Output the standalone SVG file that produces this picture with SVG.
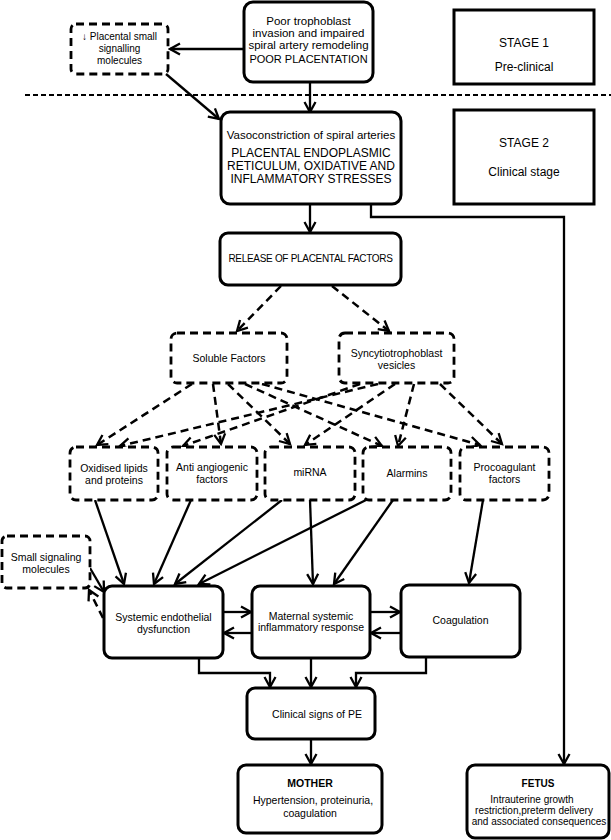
<svg xmlns="http://www.w3.org/2000/svg" width="611" height="840" viewBox="0 0 611 840">
<defs>
<marker id="ah" markerUnits="userSpaceOnUse" markerWidth="14" markerHeight="14" viewBox="0 0 14 14" refX="11.5" refY="7" orient="auto">
<path d="M1.5,1.5 L11.5,7 L1.5,12.5" fill="none" stroke="#000" stroke-width="2.3" stroke-dasharray="none"/>
</marker>
<style>
text{font-family:"Liberation Sans",Arial,sans-serif;font-size:10.5px;fill:#000;text-anchor:middle}
.box{fill:#fff;stroke:#000;stroke-width:3}
.dbox{fill:#fff;stroke:#000;stroke-width:2.8;stroke-dasharray:8 5}
.c{fill:none;stroke:#000;stroke-width:2.3}
.d{fill:none;stroke:#000;stroke-width:2.5;stroke-dasharray:8 5}
.a{marker-end:url(#ah)}
.big{font-size:11.5px}
.st{font-size:12px}
.b{font-weight:bold}
</style>
</defs>
<g id="connectors">
<line x1="25" y1="95" x2="611" y2="95" stroke="#000" stroke-width="2" stroke-dasharray="5 3"/>
<line class="c a" x1="244" y1="49" x2="170" y2="49"/>
<line class="c a" x1="310" y1="82" x2="310" y2="112"/>
<line class="c a" x1="166" y1="74" x2="219" y2="119"/>
<line class="c a" x1="310" y1="204" x2="310" y2="232"/>
<polyline class="c a" points="371,204 371,217 564,217 564,764"/>
<line class="d a" x1="281" y1="286" x2="237" y2="331"/>
<line class="d a" x1="332" y1="286" x2="389" y2="331"/>
<line class="d a" x1="192" y1="384" x2="97" y2="445"/>
<line class="d a" x1="213" y1="384" x2="221" y2="444"/>
<line class="d a" x1="228" y1="384" x2="290" y2="444"/>
<line class="d a" x1="245" y1="384" x2="382" y2="446"/>
<line class="d a" x1="262" y1="384" x2="480" y2="445"/>
<line class="d a" x1="378" y1="384" x2="120" y2="446"/>
<line class="d a" x1="360" y1="384" x2="183" y2="446"/>
<line class="d a" x1="395" y1="384" x2="305" y2="445"/>
<line class="d a" x1="414" y1="384" x2="398" y2="446"/>
<line class="d a" x1="440" y1="384" x2="502" y2="444"/>
<line class="c a" x1="95" y1="500" x2="124" y2="584"/>
<line class="c a" x1="191" y1="500" x2="154" y2="584"/>
<line class="c a" x1="282" y1="500" x2="175" y2="584"/>
<line class="c a" x1="366" y1="500" x2="199" y2="584"/>
<line class="c a" x1="310" y1="500" x2="313" y2="584"/>
<line class="c a" x1="393" y1="500" x2="334" y2="584"/>
<line class="c a" x1="483" y1="500" x2="469" y2="583"/>
<line class="c a" x1="90" y1="568" x2="104" y2="592"/>
<line class="d a" x1="103" y1="618" x2="89" y2="590"/>
<line class="c a" x1="223" y1="612" x2="251" y2="612"/>
<line class="c a" x1="252" y1="633" x2="224" y2="633"/>
<line class="c a" x1="370" y1="612" x2="400" y2="612"/>
<line class="c a" x1="401" y1="633" x2="371" y2="633"/>
<polyline class="c a" points="199,658 199,673 270,673 270,687"/>
<line class="c a" x1="311" y1="658" x2="311" y2="687"/>
<polyline class="c a" points="426,657 426,673 356,673 356,687"/>
<line class="c a" x1="311" y1="739" x2="311" y2="764"/>
</g>
<g id="poor-placentation">
<rect class="box" x="244" y="2" width="129" height="80" rx="9"/>
<text x="308.5" y="25" class="big">Poor trophoblast</text>
<text x="308.5" y="37" class="big">invasion and impaired</text>
<text x="308.5" y="49" class="big">spiral artery remodeling</text>
<text x="308.5" y="63" style="font-size:11px">POOR PLACENTATION</text>
</g>
<g id="placental-small-signalling">
<rect class="dbox" x="71" y="24" width="97" height="50" rx="5"/>
<text x="119.5" y="40" style="font-size:10px">↓ Placental small</text>
<text x="119.5" y="52" style="font-size:10px">signalling</text>
<text x="119.5" y="64" style="font-size:10px">molecules</text>
</g>
<g id="stage1">
<rect class="box" x="454" y="10" width="140" height="74"/>
<text x="524" y="47" class="st">STAGE 1</text>
<text x="524" y="71" class="st">Pre-clinical</text>
</g>
<g id="vasoconstriction">
<rect class="box" x="221" y="112" width="180" height="92" rx="9"/>
<text x="311" y="139" class="big">Vasoconstriction of spiral arteries</text>
<text x="311" y="157" class="st">PLACENTAL ENDOPLASMIC</text>
<text x="311" y="170" class="st">RETICULUM, OXIDATIVE AND</text>
<text x="311" y="183" class="st">INFLAMMATORY  STRESSES</text>
</g>
<g id="stage2">
<rect class="box" x="454" y="110" width="140" height="94"/>
<text x="524" y="147" class="st">STAGE 2</text>
<text x="524" y="176" class="st">Clinical stage</text>
</g>
<g id="release">
<rect class="box" x="220" y="233" width="181" height="52" rx="8"/>
<text x="310.5" y="262" style="font-size:10px;letter-spacing:-0.3px">RELEASE OF PLACENTAL FACTORS</text>
</g>
<g id="soluble-factors">
<rect class="dbox" x="171" y="333" width="116" height="50" rx="6"/>
<text x="229" y="362">Soluble Factors</text>
</g>
<g id="syncytiotrophoblast">
<rect class="dbox" x="339" y="333" width="115" height="50" rx="6"/>
<text x="396.5" y="357">Syncytiotrophoblast</text>
<text x="396.5" y="369">vesicles</text>
</g>
<g id="oxidised">
<rect class="dbox" x="70" y="447" width="88" height="53" rx="6"/>
<text x="114" y="472">Oxidised lipids</text>
<text x="114" y="484">and proteins</text>
</g>
<g id="anti-angiogenic">
<rect class="dbox" x="167" y="447" width="90" height="53" rx="6"/>
<text x="212" y="471">Anti angiogenic</text>
<text x="212" y="483">factors</text>
</g>
<g id="mirna">
<rect class="dbox" x="265" y="447" width="90" height="53" rx="6"/>
<text x="310" y="476">miRNA</text>
</g>
<g id="alarmins">
<rect class="dbox" x="363" y="447" width="88" height="53" rx="6"/>
<text x="407" y="477">Alarmins</text>
</g>
<g id="procoagulant">
<rect class="dbox" x="460" y="447" width="89" height="53" rx="6"/>
<text x="504.5" y="471">Procoagulant</text>
<text x="504.5" y="483">factors</text>
</g>
<g id="small-signaling">
<rect class="dbox" x="2" y="536" width="88" height="52" rx="5"/>
<text x="46" y="561">Small signaling</text>
<text x="46" y="573">molecules</text>
</g>
<g id="endothelial">
<rect class="box" x="104" y="586" width="119" height="72" rx="8"/>
<text x="163.5" y="621">Systemic endothelial</text>
<text x="163.5" y="633">dysfunction</text>
</g>
<g id="maternal">
<rect class="box" x="252" y="586" width="118" height="72" rx="8"/>
<text x="311" y="620">Maternal systemic</text>
<text x="311" y="631">inflammatory response</text>
</g>
<g id="coagulation">
<rect class="box" x="401" y="585" width="119" height="72" rx="8"/>
<text x="460.5" y="624">Coagulation</text>
</g>
<g id="clinical-signs">
<rect class="box" x="247" y="688" width="128" height="51" rx="8"/>
<text x="317" y="718">Clinical signs of PE</text>
</g>
<g id="mother">
<rect class="box" x="238" y="765" width="144" height="68" rx="8"/>
<text x="310" y="787" class="b">MOTHER</text>
<text x="313" y="804">Hypertension, proteinuria,</text>
<text x="310" y="817">coagulation</text>
</g>
<g id="fetus">
<rect class="box" x="467" y="765" width="142" height="73" rx="8"/>
<text x="538" y="787" class="b" style="font-size:10px">FETUS</text>
<text x="532" y="803" style="font-size:10px">Intrauterine growth</text>
<text x="534" y="814" style="font-size:10px">restriction,preterm delivery</text>
<text x="539" y="825" style="font-size:10px">and associated consequences</text>
</g>
</svg>
